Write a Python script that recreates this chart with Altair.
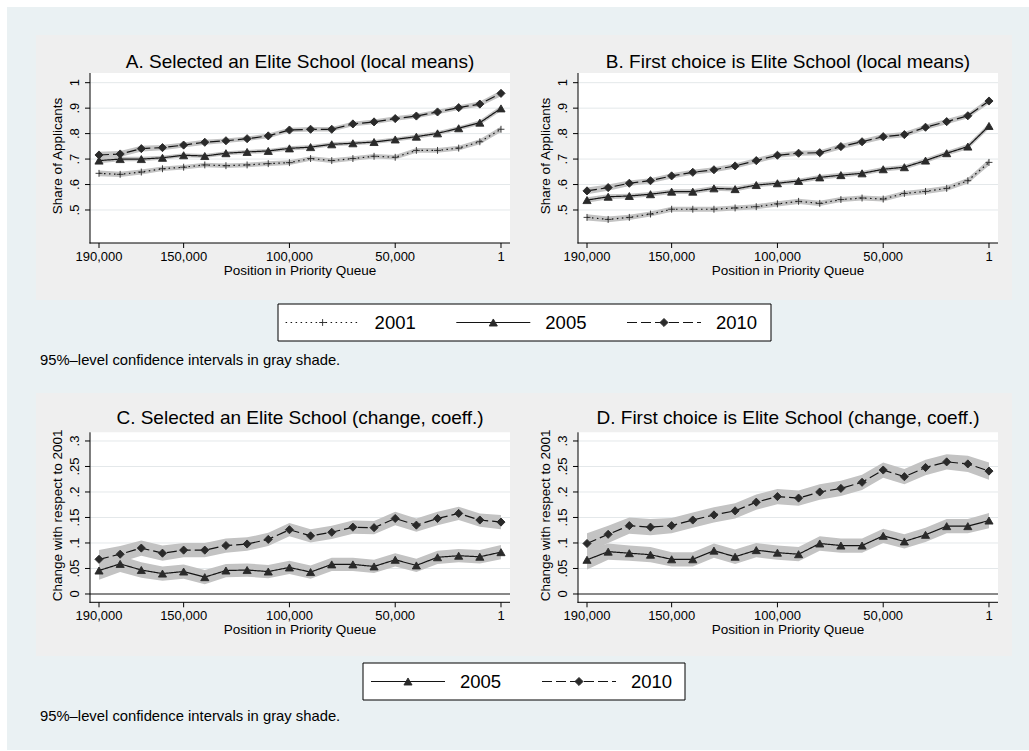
import altair as alt
import pandas as pd

# ---------------- data ----------------
positions = [190000, 180000, 170000, 160000, 150000, 140000, 130000, 120000, 110000, 100000,
             90000, 80000, 70000, 60000, 50000, 40000, 30000, 20000, 10000, 1]

# Panel A: Selected an Elite School (local means)
a_2001 = [0.644, 0.640, 0.649, 0.662, 0.668, 0.677, 0.674, 0.677, 0.682, 0.686,
          0.702, 0.694, 0.702, 0.711, 0.707, 0.734, 0.734, 0.743, 0.768, 0.817]
a_2005 = [0.694, 0.700, 0.700, 0.705, 0.715, 0.712, 0.723, 0.728, 0.732, 0.742,
          0.747, 0.758, 0.762, 0.767, 0.777, 0.788, 0.801, 0.821, 0.843, 0.899]
a_2010 = [0.716, 0.720, 0.741, 0.745, 0.755, 0.766, 0.772, 0.780, 0.791, 0.814,
          0.817, 0.817, 0.838, 0.846, 0.859, 0.869, 0.885, 0.902, 0.916, 0.958]
a_ci_2001 = [0.011, 0.010, 0.010, 0.009, 0.009, 0.009, 0.009, 0.009, 0.009, 0.009,
             0.009, 0.009, 0.009, 0.009, 0.009, 0.009, 0.009, 0.009, 0.010, 0.011]
a_ci_2005 = [0.010, 0.009, 0.009, 0.008, 0.008, 0.008, 0.008, 0.008, 0.008, 0.008,
             0.008, 0.008, 0.008, 0.008, 0.008, 0.008, 0.008, 0.008, 0.009, 0.010]
a_ci_2010 = [0.013, 0.012, 0.011, 0.010, 0.010, 0.010, 0.009, 0.009, 0.009, 0.009,
             0.009, 0.009, 0.009, 0.009, 0.009, 0.009, 0.009, 0.009, 0.010, 0.011]

# Panel B: First choice is Elite School (local means)
b_2001 = [0.471, 0.463, 0.471, 0.484, 0.503, 0.503, 0.503, 0.508, 0.513, 0.524,
          0.534, 0.526, 0.541, 0.547, 0.543, 0.565, 0.573, 0.585, 0.615, 0.687]
b_2005 = [0.539, 0.552, 0.555, 0.562, 0.572, 0.572, 0.585, 0.582, 0.598, 0.605,
          0.614, 0.628, 0.637, 0.644, 0.660, 0.668, 0.694, 0.723, 0.749, 0.830]
b_2010 = [0.575, 0.588, 0.605, 0.615, 0.634, 0.648, 0.658, 0.673, 0.694, 0.715,
          0.723, 0.725, 0.749, 0.768, 0.788, 0.796, 0.825, 0.847, 0.870, 0.928]
b_ci_2001 = [0.012, 0.011, 0.010, 0.010, 0.010, 0.010, 0.010, 0.010, 0.010, 0.010,
             0.010, 0.010, 0.010, 0.010, 0.010, 0.010, 0.010, 0.010, 0.011, 0.012]
b_ci_2005 = [0.011, 0.010, 0.009, 0.009, 0.009, 0.009, 0.009, 0.009, 0.009, 0.009,
             0.009, 0.009, 0.009, 0.009, 0.009, 0.009, 0.009, 0.009, 0.010, 0.011]
b_ci_2010 = [0.013, 0.012, 0.011, 0.010, 0.010, 0.010, 0.010, 0.010, 0.010, 0.010,
             0.010, 0.010, 0.010, 0.010, 0.010, 0.010, 0.010, 0.010, 0.010, 0.011]

# Panel C: Selected an Elite School (change, coeff.)
c_2005 = [0.046, 0.059, 0.047, 0.040, 0.044, 0.033, 0.046, 0.047, 0.044, 0.052,
          0.043, 0.058, 0.058, 0.054, 0.067, 0.056, 0.072, 0.075, 0.073, 0.082]
c_2010 = [0.068, 0.078, 0.090, 0.080, 0.086, 0.086, 0.095, 0.098, 0.107, 0.126,
          0.114, 0.121, 0.131, 0.130, 0.148, 0.135, 0.148, 0.158, 0.145, 0.141]
c_ci_2005 = [0.018, 0.016, 0.015, 0.014, 0.014, 0.014, 0.013, 0.013, 0.013, 0.013,
             0.013, 0.013, 0.013, 0.013, 0.013, 0.013, 0.013, 0.013, 0.013, 0.014]
c_ci_2010 = [0.018, 0.016, 0.015, 0.015, 0.014, 0.014, 0.014, 0.013, 0.013, 0.013,
             0.013, 0.013, 0.013, 0.013, 0.013, 0.013, 0.013, 0.013, 0.013, 0.014]

# Panel D: First choice is Elite School (change, coeff.)
d_2005 = [0.067, 0.083, 0.080, 0.077, 0.068, 0.068, 0.085, 0.073, 0.086, 0.081,
          0.078, 0.099, 0.095, 0.095, 0.114, 0.103, 0.116, 0.133, 0.133, 0.144]
d_2010 = [0.099, 0.117, 0.134, 0.131, 0.134, 0.145, 0.155, 0.163, 0.180, 0.191,
          0.188, 0.200, 0.207, 0.219, 0.243, 0.230, 0.248, 0.259, 0.255, 0.241]
d_ci_2005 = [0.019, 0.016, 0.015, 0.015, 0.014, 0.014, 0.014, 0.014, 0.014, 0.014,
             0.014, 0.014, 0.014, 0.014, 0.014, 0.014, 0.014, 0.014, 0.014, 0.015]
d_ci_2010 = [0.020, 0.017, 0.016, 0.016, 0.015, 0.015, 0.015, 0.015, 0.015, 0.015,
             0.015, 0.015, 0.015, 0.015, 0.015, 0.015, 0.015, 0.015, 0.016, 0.017]

# tick values and tick labels
x_ticks = [190000, 150000, 100000, 50000, 1]
x_tick_labels = ["190,000", "150,000", "100,000", "50,000", "1"]
yticks_share = [0.5, 0.6, 0.7, 0.8, 0.9, 1.0]
ylabels_share = [".5", ".6", ".7", ".8", ".9", "1"]
yticks_change = [0.0, 0.05, 0.1, 0.15, 0.2, 0.25, 0.3]
ylabels_change = ["0", ".05", ".1", ".15", ".2", ".25", ".3"]

years3 = ["2001", "2005", "2010"]
years2 = ["2005", "2010"]

titles = ["A. Selected an Elite School (local means)",
          "B. First choice is Elite School (local means)",
          "C. Selected an Elite School (change, coeff.)",
          "D. First choice is Elite School (change, coeff.)"]
x_title = "Position in Priority Queue"
y_title_share = "Share of Applicants"
y_title_change = "Change with respect to 2001"
note_text = "95%\u2013level confidence intervals in gray shade."

# ---------------- styling ----------------
FONT = "Liberation Sans"
INK = "#141414"
MARK = "#2a2a2a"
BAND = "#c3c3c3"
GRID = "#e4e8ea"
BLUE_BG = "#eaf1f3"
GRAY_BG = "#efefef"
W, H = 1029, 751
TICK_FS = 13
AXTITLE_FS = 13.5

PLUS = "M-0.85,0L0.85,0M0,-0.85L0,0.85"
style_shape = {"2001": PLUS, "2005": "triangle-up", "2010": "diamond"}
style_dash = {"2001": [1.5, 3.5], "2005": [1, 0], "2010": [10, 4]}

one = pd.DataFrame({"k": [0]})


def deco_rect(x1, x2, y1, y2, fill, stroke=None):
    kw = dict(fill=fill)
    if stroke:
        kw.update(stroke=stroke, strokeWidth=1)
    return alt.Chart(one).mark_rect(**kw).encode(
        x=alt.value(x1), x2=alt.value(x2), y=alt.value(y1), y2=alt.value(y2))


def label_text(text, x, y, size, angle=0, align="center"):
    return alt.Chart(pd.DataFrame({"label": [text]})).mark_text(
        font=FONT, fontSize=size, color="black", baseline="middle", align=align, angle=angle).encode(
        x=alt.value(x), y=alt.value(y), text="label:N")


def panel(series, cis, years, xr, yr, ydom, yticks, ylabels, ytitle, title, title_y, zero_line):
    rows = []
    for yl, vals, ci in zip(years, series, cis):
        for p, v, c in zip(positions, vals, ci):
            rows.append({"pos": p, "val": v, "lo": v - c, "hi": v + c, "year": yl})
    df = pd.DataFrame(rows)
    xs = alt.Scale(domain=[-4253, 194254], range=[xr[1], xr[0]], zero=False, nice=False)
    ys = alt.Scale(domain=ydom, range=[yr[0], yr[1]], zero=False, nice=False)
    shape_sc = alt.Scale(domain=years, range=[style_shape[y] for y in years])
    dash_sc = alt.Scale(domain=years, range=[style_dash[y] for y in years])
    X = lambda f: alt.X(f, scale=xs, axis=None)
    Y = lambda f: alt.Y(f, scale=ys, axis=None)

    plot_bg = deco_rect(xr[0], xr[1], yr[1], yr[0], "white")
    ydf = pd.DataFrame({"t": yticks, "lab": ylabels})
    xdf = pd.DataFrame({"t": x_ticks, "lab": x_tick_labels})
    grid = alt.Chart(ydf).transform_filter(
        "datum.t != 0" if zero_line else "true").mark_rule(color=GRID, strokeWidth=1).encode(
        y=Y("t:Q"), x=alt.value(xr[0]), x2=alt.value(xr[1]))
    layers = [plot_bg, grid]
    if zero_line:
        layers.append(alt.Chart(ydf).transform_filter("datum.t == 0").mark_rule(
            color=INK, strokeWidth=1.1).encode(y=Y("t:Q"), x=alt.value(xr[0]), x2=alt.value(xr[1])))

    base = alt.Chart(df)
    band = base.mark_area(color=BAND, opacity=1).encode(
        x=X("pos:Q"), y=Y("lo:Q"), y2="hi:Q", detail="year:N")
    line = base.mark_line(color=INK, strokeWidth=1.2).encode(
        x=X("pos:Q"), y=Y("val:Q"),
        strokeDash=alt.StrokeDash("year:N", scale=dash_sc, legend=None),
        detail="year:N")
    pts = base.mark_point(filled=True, opacity=1, fill=MARK, stroke=MARK, strokeWidth=0.9, size=66).encode(
        x=X("pos:Q"), y=Y("val:Q"),
        shape=alt.Shape("year:N", scale=shape_sc, legend=None))

    # axes drawn through the panel scales
    x_dom = alt.Chart(one).mark_rule(color="black", strokeWidth=1).encode(
        x=alt.value(xr[0] - 0.5), x2=alt.value(xr[1]), y=alt.value(yr[0]))
    y_dom = alt.Chart(one).mark_rule(color="black", strokeWidth=1).encode(
        x=alt.value(xr[0]), y=alt.value(yr[1]), y2=alt.value(yr[0] + 0.5))
    x_tk = alt.Chart(xdf).mark_rule(color="black", strokeWidth=1).encode(
        x=X("t:Q"), y=alt.value(yr[0]), y2=alt.value(yr[0] + 5))
    x_lb = alt.Chart(xdf).mark_text(font=FONT, fontSize=TICK_FS, color="black", baseline="middle").encode(
        x=X("t:Q"), y=alt.value(yr[0] + 14), text="lab:N")
    y_tk = alt.Chart(ydf).mark_rule(color="black", strokeWidth=1).encode(
        y=Y("t:Q"), x=alt.value(xr[0] - 5), x2=alt.value(xr[0]))
    y_lb = alt.Chart(ydf).mark_text(font=FONT, fontSize=TICK_FS, color="black", baseline="middle",
                                    angle=270).encode(
        y=Y("t:Q"), x=alt.value(xr[0] - 15), text="lab:N")
    x_tt = label_text(x_title, (xr[0] + xr[1]) / 2, yr[0] + 27.5, AXTITLE_FS)
    y_tt = label_text(ytitle, xr[0] - 32, (yr[0] + yr[1]) / 2 - 2, AXTITLE_FS, angle=270)
    ttl = label_text(title, (xr[0] + xr[1]) / 2, title_y, 19)

    layers += [band, line, pts, x_dom, y_dom, x_tk, x_lb, y_tk, y_lb, x_tt, y_tt, ttl]
    return alt.layer(*layers)


def legend(years, marker_x, box, ymid):
    ldf = pd.DataFrame({"year": years})
    xs = alt.Scale(type="point", domain=years, range=list(marker_x), padding=0)
    shape_sc = alt.Scale(domain=years, range=[style_shape[y] for y in years])
    dash_sc = alt.Scale(domain=years, range=[style_dash[y] for y in years])
    frame = deco_rect(box[0], box[1], box[2], box[3], "white", stroke="black")
    seg = alt.Chart(ldf).mark_rule(color=INK, strokeWidth=1.2, xOffset=-37, x2Offset=37).encode(
        x=alt.X("year:N", scale=xs, axis=None), x2="year:N", y=alt.value(ymid),
        strokeDash=alt.StrokeDash("year:N", scale=dash_sc, legend=None))
    pts = alt.Chart(ldf).mark_point(filled=True, opacity=1, fill=MARK, stroke=MARK, strokeWidth=0.9, size=66).encode(
        x=alt.X("year:N", scale=xs, axis=None), y=alt.value(ymid),
        shape=alt.Shape("year:N", scale=shape_sc, legend=None))
    txt = alt.Chart(ldf).mark_text(font=FONT, fontSize=18.5, color="black", align="left",
                                   baseline="middle", dx=52).encode(
        x=alt.X("year:N", scale=xs, axis=None), y=alt.value(ymid), text="year:N")
    return alt.layer(frame, seg, pts, txt)


def note(y):
    return label_text(note_text, 40, y, 14.8, align="left")


share_dom = [0.3704, 1.038]
change_dom = [-0.0163, 0.317]

pA = panel([a_2001, a_2005, a_2010], [a_ci_2001, a_ci_2005, a_ci_2010], years3,
           (90, 510), (243, 73), share_dom, yticks_share, ylabels_share, y_title_share, titles[0], 62, False)
pB = panel([b_2001, b_2005, b_2010], [b_ci_2001, b_ci_2005, b_ci_2010], years3,
           (578, 998), (243, 73), share_dom, yticks_share, ylabels_share, y_title_share, titles[1], 62, False)
pC = panel([c_2005, c_2010], [c_ci_2005, c_ci_2010], years2,
           (90, 510), (602.3, 432.3), change_dom, yticks_change, ylabels_change, y_title_change, titles[2], 418, True)
pD = panel([d_2005, d_2010], [d_ci_2005, d_ci_2010], years2,
           (578, 998), (602.3, 432.3), change_dom, yticks_change, ylabels_change, y_title_change, titles[3], 418, True)

legU = legend(years3, (322.6, 664), (278, 771, 304, 341), 322.5)
legL = legend(years2, (408, 579), (363, 685, 663, 700), 681.5)

chart = alt.layer(
    deco_rect(7, W, 7, 750, BLUE_BG),
    deco_rect(36, 1012, 35, 300, GRAY_BG),
    deco_rect(36, 1012, 393, 656, GRAY_BG),
    pA, pB, pC, pD, legU, legL, note(361), note(717)
).resolve_scale(
    x="independent", y="independent", shape="independent", strokeDash="independent"
).properties(
    width=W, height=H, autosize=alt.AutoSizeParams(type="none"), padding=0, background="white"
).configure_view(strokeWidth=0)

chart.save("out.html", embed_options={"renderer": "svg", "actions": False})
